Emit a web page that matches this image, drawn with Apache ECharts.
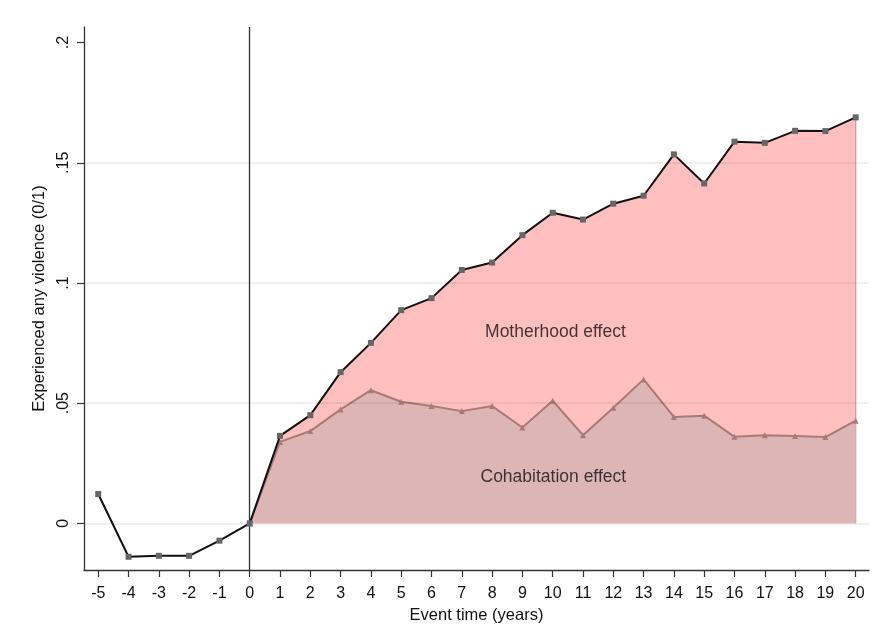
<!DOCTYPE html>
<html>
<head>
<meta charset="utf-8">
<script src="https://cdn.jsdelivr.net/npm/echarts@6/dist/echarts.min.js"></script>
<style>html,body{margin:0;padding:0;background:#fff}#c{width:877px;height:625px}</style>
</head>
<body>
<div id="c"></div>
<script>
const eventTimes = [-5,-4,-3,-2,-1,0,1,2,3,4,5,6,7,8,9,10,11,12,13,14,15,16,17,18,19,20];
const totalEffect = [0.0122,-0.0139,-0.0135,-0.0135,-0.0072,0,0.0364,0.0450,0.0629,0.0751,0.0887,0.0937,0.1054,0.1085,0.1199,0.1292,0.1264,0.1330,0.1363,0.1535,0.1414,0.1588,0.1583,0.1633,0.1632,0.1689];
const cohabTimes = [0,1,2,3,4,5,6,7,8,9,10,11,12,13,14,15,16,17,18,19,20];
const cohabEffect = [0,0.0339,0.0384,0.0474,0.0554,0.0506,0.0488,0.0467,0.0488,0.0399,0.0510,0.0367,0.0481,0.0599,0.0443,0.0448,0.0360,0.0367,0.0363,0.0359,0.0427];
const yTicks = [0,0.05,0.1,0.15,0.2];
const yTickLabels = ['0','.05','.1','.15','.2'];
const gridValues = [0,0.05,0.1,0.15];
const xTicks = eventTimes;

const totalPairs = eventTimes.map((t,i)=>[t,totalEffect[i]]);
const postPairs = totalPairs.filter(p=>p[0]>=0);
const cohabPairs = cohabTimes.map((t,i)=>[t,cohabEffect[i]]);
const lastT = eventTimes[eventTimes.length-1];

const FONT = 'Liberation Sans, Arial, sans-serif';
const chart = echarts.init(document.getElementById('c'), null, {renderer:'canvas'});
chart.setOption({
  animation:false,
  backgroundColor:'#fff',
  grid:{left:84,top:27,right:8,bottom:55,containLabel:false,outerBoundsMode:'none'},
  xAxis:{
    type:'value', min:-5.47, max:20.44,
    name:'Event time (years)', nameLocation:'middle', nameGap:35,
    nameTextStyle:{fontFamily:FONT,fontSize:16.5,color:'#111'},
    axisLine:{show:true,onZero:false,lineStyle:{color:'#333',width:1.3}},
    axisTick:{show:true,length:7,customValues:xTicks,lineStyle:{color:'#333',width:1.2}},
    axisLabel:{customValues:xTicks,fontFamily:FONT,fontSize:16,color:'#111',margin:16},
    splitLine:{show:false}
  },
  yAxis:{
    type:'value', min:-0.0194, max:0.2065,
    name:'Experienced any violence (0/1)', nameLocation:'middle', nameGap:34, nameRotate:90,
    nameTextStyle:{fontFamily:FONT,fontSize:16.5,color:'#111'},
    axisLine:{show:true,onZero:false,lineStyle:{color:'#333',width:1.3}},
    axisTick:{show:true,length:7,customValues:yTicks,lineStyle:{color:'#333',width:1.2}},
    axisLabel:{customValues:yTicks,rotate:90,fontFamily:FONT,fontSize:16,color:'#111',margin:12,
      formatter:function(v){const i=yTicks.findIndex(t=>Math.abs(t-v)<1e-9);return i>=0?yTickLabels[i]:'';}},
    splitLine:{show:false}
  },
  series:[
    {
      name:'total area', type:'line', data:postPairs, symbol:'none', z:1,
      lineStyle:{width:0}, areaStyle:{color:'#FFBFBF',opacity:1}
    },
    {
      name:'edge', type:'line', data:[[lastT,0],[lastT,totalEffect[totalEffect.length-1]]], symbol:'none', z:1,
      lineStyle:{color:'#C8A0A0',width:1.3}
    },
    {
      name:'cohab', type:'line', data:cohabPairs, symbol:'triangle', symbolSize:6, z:2,
      itemStyle:{color:'#A87A7A'}, lineStyle:{color:'#A87A7A',width:2},
      areaStyle:{color:'#DDB5B5',opacity:1}
    },
    {
      name:'grid', type:'line', data:[], z:3, silent:true,
      markLine:{silent:true,symbol:'none',label:{show:false},
        lineStyle:{color:'rgba(0,0,0,0.08)',type:'solid',width:1.5},
        data:gridValues.map(v=>({yAxis:v}))}
    },
    {
      name:'total', type:'line', data:totalPairs, symbol:'rect', symbolSize:6, z:5,
      itemStyle:{color:'#666'}, lineStyle:{color:'#111',width:2},
      markLine:{silent:true,symbol:'none',label:{show:false},
        lineStyle:{color:'#333',type:'solid',width:1.3},
        data:[{xAxis:0}]}
    },
    {
      name:'labels', type:'scatter', symbolSize:0, z:6, silent:true,
      data:[
        {value:[10.09,0.0796],label:{formatter:'Motherhood effect'}},
        {value:[10.02,0.0193],label:{formatter:'Cohabitation effect'}}
      ],
      label:{show:true,position:'inside',fontFamily:FONT,fontSize:17.5,color:'#111'}
    }
  ]
});
</script>
</body>
</html>
